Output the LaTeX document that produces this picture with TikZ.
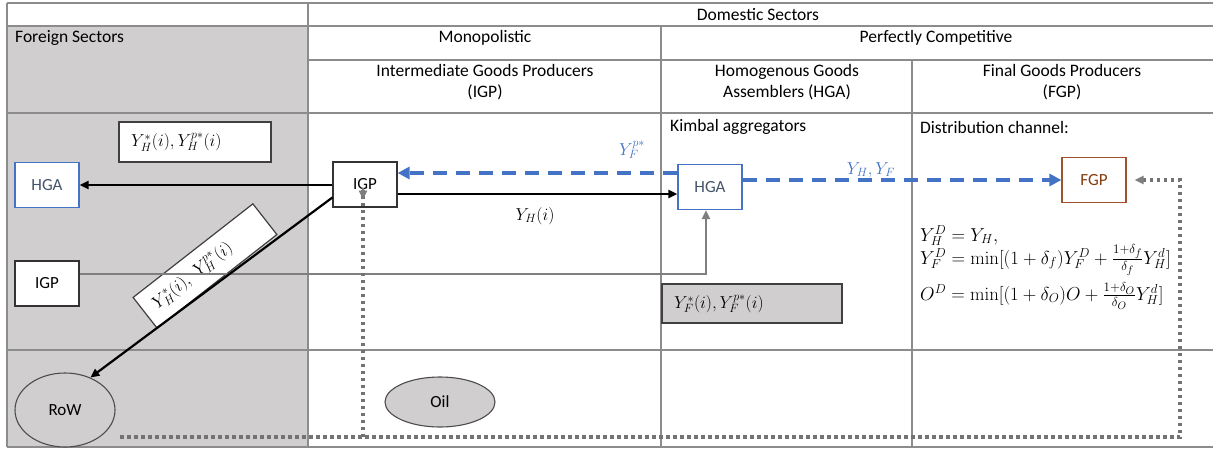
\documentclass[tikz,border=0pt]{standalone}
\usepackage[no-math]{fontspec}
\setmainfont{Carlito}
\usetikzlibrary{arrows.meta,shapes.geometric}
\definecolor{gfill}{HTML}{D0CECE}
\definecolor{gline}{HTML}{8C8C8C}
\definecolor{bblue}{HTML}{4472C4}
\definecolor{hgatxt}{HTML}{44546A}
\definecolor{brown}{HTML}{A0522D}
\definecolor{browntxt}{HTML}{843C0C}
\definecolor{arrgray}{HTML}{7F7F7F}
\tikzset{
  grid/.style={draw=gline, line width=1.3pt},
  txt/.style={font=\fontsize{17.5}{20}\selectfont, inner sep=0pt},
  mth/.style={font=\fontsize{17.28}{20}\selectfont, inner sep=0pt},
  eqn/.style={font=\fontsize{17.28}{20}\selectfont, inner sep=0pt, anchor=base west, scale=1.085},
  boxw/.style={draw=black!80, line width=1.2pt, fill=white, minimum width=64pt, minimum height=45pt, font=\fontsize{17}{20}\selectfont},
  ell/.style={ellipse, draw=black!70, line width=1.1pt, fill=gfill, font=\fontsize{17}{20}\selectfont},
  lab/.style={draw=black!75, line width=1.2pt, font=\fontsize{17.28}{20}\selectfont, align=left, inner xsep=12pt},
  blk/.style={line width=2.4pt, -{Triangle[length=9pt,width=8pt]}},
  bdash/.style={draw=bblue, line width=3.5pt, dash pattern=on 14pt off 9pt, -{Triangle[length=12pt,width=12pt]}},
  garr/.style={draw=arrgray, line width=2.6pt, -{Triangle[length=9pt,width=8pt]}},
  gdot/.style={draw=black!55, line width=3.2pt, dash pattern=on 3.5pt off 3.5pt},
}
\begin{document}
\begin{tikzpicture}[x=1pt,y=-1pt]
\useasboundingbox (0,0) rectangle (1213,451);
\fill[white] (0,0) rectangle (1213,451);
\fill[gfill] (7,26) rectangle (308,447);
% grid
\draw[grid] (7,3) -- (1213,3);
\draw[grid] (7,26) -- (1213,26);
\draw[grid] (308,60) -- (1213,60);
\draw[grid] (7,113) -- (1213,113);
\draw[grid] (7,350) -- (1213,350);
\draw[grid] (7,447) -- (1213,447);
\draw[grid] (7,3) -- (7,447);
\draw[grid] (308,3) -- (308,447);
\draw[grid] (661,26) -- (661,447);
\draw[grid] (912,60) -- (912,447);
% header texts
\node[txt] (hdom) at (758,15) {Domestic Sectors};
\node[txt, anchor=west] (hfor) at (15,38) {Foreign Sectors};
\node[txt] (hmono) at (485,38) {Monopolistic};
\node[txt] (hperf) at (936,38) {Perfectly Competitive};
\node[txt, align=center] (higp) at (485,82) {Intermediate Goods Producers\\[1pt](IGP)};
\node[txt, align=center] (hhga) at (787,82) {Homogenous Goods\\[1pt]Assemblers (HGA)};
\node[txt, align=center] (hfgp) at (1062,82) {Final Goods Producers\\[1pt](FGP)};
\node[txt, anchor=west] (kimb) at (670,127) {Kimbal aggregators};
\node[txt, anchor=west] (dist) at (920,127) {Distribution channel:};
% nodes
\node[boxw, draw=bblue, text=hgatxt] (hgaF) at (47,185) {HGA};
\node[boxw] (igpF) at (47,283.5) {IGP};
\node[boxw] (igpD) at (365,184.5) {IGP};
\node[boxw, draw=bblue, text=hgatxt] (hgaD) at (710,187) {HGA};
\node[boxw, draw=brown, text=browntxt] (fgp) at (1094,180) {FGP};
\node[ell, minimum width=100pt, minimum height=74pt] (row) at (65,410) {RoW};
\node[ell, minimum width=110pt, minimum height=50pt] (oil) at (440,402) {Oil};
% label boxes
\node[lab, fill=white, minimum height=40pt, text width=128pt] (lyh) at (195,142) {$Y_H^*(i),Y_H^{p*}(i)$};
\node[lab, fill=white, minimum height=39pt, text width=128pt, rotate=38] (lyhr) at (205,266) {$Y_H^*(i),\ Y_H^{p*}(i)$};
\node[lab, fill=gfill, minimum height=39pt, text width=156pt] (lyf) at (752,303.5) {$Y_F^*(i),Y_F^{p*}(i)$};
% connectors
\draw[garr] (igpF.east |- 0,274) -| ([xshift=-4pt]hgaD.south);
\draw[blk] (igpD.west |- hgaF.east) -- (hgaF.east);
\draw[line width=2.2pt, -{Triangle[length=9pt,width=8pt]}] ([yshift=-13pt]igpD.west) -- (row.52);
\draw[blk] (igpD.east |- 0,194) -- (hgaD.west |- 0,194);
\draw[bdash] (hgaD.west |- 0,173) -- (igpD.east |- 0,173);
\draw[bdash] (hgaD.east |- fgp.west) -- (fgp.west);
\coordinate (dr) at (1180,437);
\coordinate (dl) at (120,437);
\draw[gdot] (dl) -- (dr) -- (dr |- fgp.east) -- ([xshift=14pt]fgp.east);
\draw[draw=arrgray, line width=2.6pt, -{Triangle[length=9pt,width=8pt]}] ([xshift=16pt]fgp.east) -- ([xshift=8pt]fgp.east);
\draw[gdot] (363,437) -- ([xshift=-2pt,yshift=18pt]igpD.south);
\draw[draw=arrgray, line width=2.6pt, -{Triangle[length=9pt,width=8pt]}] ([xshift=-2pt,yshift=20pt]igpD.south) -- ([xshift=-2pt,yshift=8pt]igpD.south);
% math labels
\node[mth] (lyhi) at (535,216) {$Y_H(i)$};
\node[mth, text=bblue] (lyfp) at (632,150) {$Y_F^{p*}$};
\node[mth, text=bblue] (lyhf) at (871,170) {$Y_H,Y_F$};
\node[eqn] (eq1) at (920,241) {$Y_H^D = Y_H,$};
\node[eqn] (eq2) at (920,264) {$Y_F^D = \min[(1+\delta_f)Y_F^D + \frac{1+\delta_f}{\delta_f}Y_H^d]$};
\node[eqn] (eq3) at (920,300) {$O^D = \min[(1+\delta_O)O + \frac{1+\delta_O}{\delta_O}Y_H^d]$};
\end{tikzpicture}
\end{document}
